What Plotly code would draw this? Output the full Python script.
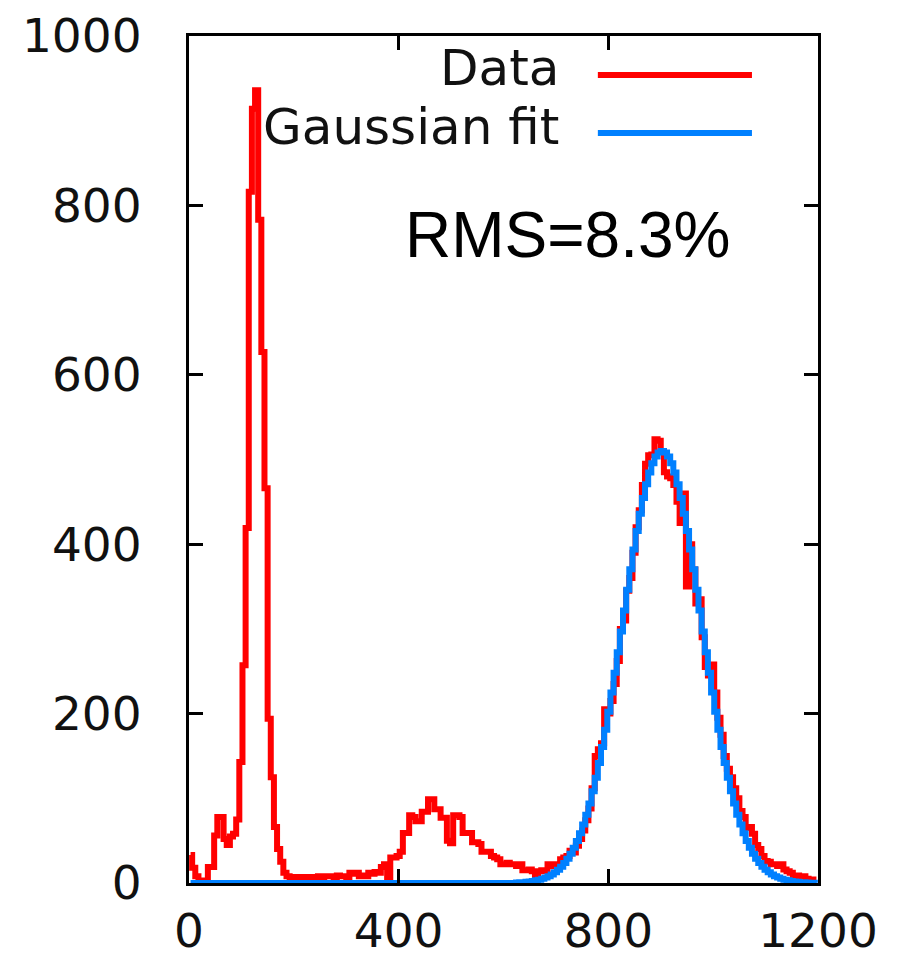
import plotly.graph_objects as go

# ---- data ----
BIN_WIDTH = 6  # channel units per histogram bin
x_tick_vals = [0, 400, 800, 1200]
y_tick_vals = [0, 200, 400, 600, 800, 1000]

data_counts = [
    33, 18, 8, 3, 2, 3, 19, 19, 56, 78, 78, 52, 45, 55, 58, 75, 143, 257, 419, 816,
    914, 936, 783, 627, 466, 194, 125, 66, 40, 25, 12,
    8, 7, 7, 6, 7, 7, 6, 7, 7, 4, 8, 4, 8, 8,
    8, 7, 9, 8, 8, 5, 12, 11, 12, 8, 9, 8, 12, 11, 13, 12,
    19, 22, 5, 30, 30, 32, 37,
    59, 59, 80, 78, 73, 73, 84, 84, 99, 99, 87, 87, 77, 77, 50, 47, 80, 80, 78, 59,
    59, 59, 48, 48, 46, 37, 37, 37, 32, 30, 28,
    22, 22, 24, 22, 22, 20, 22, 15, 15, 16, 14, 8, 14, 15, 14, 22, 20, 22, 22,
    28, 30, 32, 38, 36, 44, 52, 62, 74, 88, 112, 150, 158, 165, 205, 200, 215, 235, 262, 300,
    310, 345, 360, 390, 420, 440, 470, 495, 505, 506, 524, 522, 510, 485, 480, 478, 470, 450, 425, 460,
    350, 400, 370, 330, 335, 290, 255, 245, 258, 225, 195, 175, 150, 135, 125, 112, 100, 85, 78, 65,
    66, 58, 45, 40, 32, 26, 25, 22, 22, 20, 22, 16, 14, 12, 8, 9, 8, 8, 5, 4,
    4, 4,
]

fit_counts = [0.0] * 104 + [
    0.6, 0.8, 1.0, 1.4, 1.8, 2.4, 3.1, 3.9, 5.0, 6.4, 8.1, 10.1, 12.6, 15.6, 19.2, 23.6,
    28.6, 34.6, 41.5, 49.5, 58.7, 69.0, 80.7, 93.8, 108.4, 124.4, 141.8, 160.7, 180.9,
    202.3, 224.8, 248.3, 272.4, 297.0, 321.7, 346.3, 370.3, 393.6, 415.5, 436.0, 454.5,
    470.8, 484.6, 495.5, 503.5, 508.4, 510.0,
    508.4, 503.5, 495.5, 484.6, 470.8, 454.5, 436.0, 415.5, 393.6, 370.3, 346.3, 321.7,
    297.0, 272.4, 248.3, 224.8, 202.3, 180.9, 160.7, 141.8, 124.4, 108.4, 93.8, 80.7,
    69.0, 58.7, 49.5, 41.5, 34.6, 28.6, 23.6, 19.2, 15.6, 12.6, 10.1, 8.1, 6.4, 5.0,
    3.9, 3.1, 2.4, 1.8, 1.4, 1.0, 0.8, 0.6, 0.4, 0.3, 0.2,
]

series_names = ["Data", "Gaussian fit"]
rms_label = "RMS=8.3%"

assert len(data_counts) == 200, len(data_counts)
assert len(fit_counts) == 200, len(fit_counts)

bin_centers = [BIN_WIDTH * i + BIN_WIDTH / 2 for i in range(len(data_counts))]

RED = "#ff0000"
BLUE = "rgb(0,128,255)"

fig = go.Figure()
fig.add_trace(go.Scatter(x=bin_centers, y=data_counts, mode="lines",
                         line=dict(color=RED, width=6, shape="hvh"),
                         name=series_names[0]))
fig.add_trace(go.Scatter(x=bin_centers, y=fit_counts, mode="lines",
                         line=dict(color=BLUE, width=6, shape="hvh"),
                         name=series_names[1]))

tick_font = dict(family="DejaVu Sans", size=47, color="#111111")
axis_common = dict(showline=True, linewidth=3, linecolor="black", mirror="ticks",
                   ticks="inside", ticklen=14, tickwidth=3, tickcolor="black",
                   showgrid=False, zeroline=False, tickfont=tick_font, automargin=False)

fig.update_xaxes(range=[0, 1200], tickvals=x_tick_vals, ticklabelstandoff=5, **axis_common)
fig.update_yaxes(range=[0, 1000], tickvals=y_tick_vals, ticklabelstandoff=35, **axis_common)

# manual legend (gnuplot style: text right-aligned, sample line to the right)
legend_font = dict(family="DejaVu Sans", size=50, color="#111111")
fig.add_annotation(x=710, y=962, xref="x", yref="y", text=series_names[0], showarrow=False,
                   xanchor="right", yanchor="middle", font=legend_font)
fig.add_annotation(x=710, y=893, xref="x", yref="y", text=series_names[1], showarrow=False,
                   xanchor="right", yanchor="middle", font=legend_font)
fig.add_shape(type="line", x0=780, x1=1074, y0=954, y1=954, xref="x", yref="y",
              line=dict(color=RED, width=6))
fig.add_shape(type="line", x0=780, x1=1074, y0=885.5, y1=885.5, xref="x", yref="y",
              line=dict(color=BLUE, width=6))

fig.add_annotation(x=408, y=765, xref="x", yref="y", text=rms_label, showarrow=False,
                   xanchor="left", yanchor="middle",
                   font=dict(family="Liberation Sans", size=64, color="black"))

fig.update_layout(width=898, height=960, showlegend=False,
                  margin=dict(l=189, r=80, t=36, b=77, autoexpand=False),
                  plot_bgcolor="white", paper_bgcolor="white")

fig.write_html("out.html")
